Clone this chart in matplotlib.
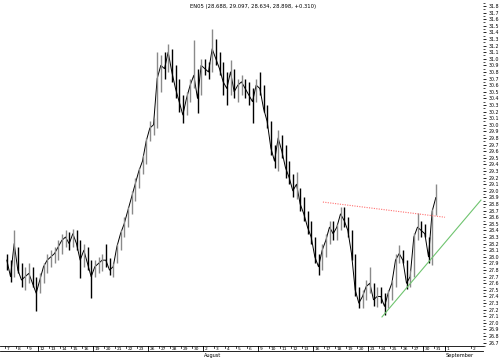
import numpy as np
import matplotlib
matplotlib.use("Agg")
import matplotlib.pyplot as plt
from matplotlib.ticker import MultipleLocator, FormatStrFormatter

# -----------------------------
# Chart data
# -----------------------------
title = "EN05 (28.688, 29.097, 28.634, 28.898, +0.310)"

day_labels = ["7", "8", "9", "12", "13", "14", "15", "16", "19", "20", "21", "22", "23",
              "26", "27", "28", "29", "30",
              "2", "3", "4", "5", "6", "9", "10", "11", "12", "13", "16", "17", "18", "19", "20",
              "23", "24", "25", "26", "27", "30", "31",
              "1", "2"]
month_labels = {"August": 18, "September": 40}

# three bars per trading day, last day has one bar
bar_high = [28.05, 27.95, 28.40, 28.15, 27.90, 27.85, 27.90, 27.85, 27.70,
            27.75, 27.90, 28.05, 28.10, 28.15, 28.25, 28.35, 28.40, 28.38,
            28.42, 28.40, 28.25, 28.20, 28.15, 27.95, 27.95, 28.00, 28.05,
            28.20, 27.98, 27.90, 28.20, 28.40, 28.60, 28.75, 29.00, 29.20,
            29.35, 29.55, 29.80, 30.05, 30.10, 31.10, 31.05, 31.10, 31.22,
            31.15, 30.90, 30.70, 30.45, 30.50, 30.70, 31.28, 30.85, 31.00,
            31.00, 30.95, 31.45, 31.30, 31.10, 30.95, 30.80, 30.98, 30.85,
            30.70, 30.75, 30.70, 30.65, 30.55, 30.70, 30.80, 30.60, 30.30,
            30.05, 29.70, 29.92, 29.85, 29.70, 29.45, 29.25, 29.28, 29.05,
            28.90, 28.70, 28.55, 28.30, 28.05, 28.20, 28.35, 28.55, 28.55,
            28.50, 28.76, 28.75, 28.60, 28.40, 28.05, 27.55, 27.50, 27.65,
            27.85, 27.60, 27.55, 27.55, 27.45, 27.50, 27.65, 28.05, 28.18,
            28.10, 27.95, 27.80, 28.36, 28.66, 28.55, 28.50, 28.30, 28.72,
            29.097]
bar_low = [27.80, 27.62, 27.70, 27.75, 27.55, 27.50, 27.60, 27.55, 27.18,
           27.45, 27.60, 27.75, 27.85, 27.90, 27.95, 28.05, 28.15, 28.10,
           28.15, 28.10, 27.68, 27.85, 27.80, 27.38, 27.70, 27.75, 27.78,
           27.85, 27.72, 27.70, 27.90, 28.10, 28.30, 28.45, 28.65, 28.85,
           29.05, 29.25, 29.40, 29.75, 29.85, 29.95, 30.50, 30.70, 30.80,
           30.65, 30.40, 30.20, 30.02, 30.15, 30.35, 30.55, 30.18, 30.45,
           30.75, 30.70, 30.80, 30.90, 30.75, 30.45, 30.30, 30.45, 30.40,
           30.35, 30.45, 30.40, 30.30, 30.02, 30.35, 30.45, 30.20, 29.95,
           29.55, 29.35, 29.30, 29.50, 29.20, 29.10, 28.90, 28.88, 28.70,
           28.55, 28.35, 28.20, 27.90, 27.72, 27.80, 28.00, 28.20, 28.25,
           28.25, 28.40, 28.45, 28.30, 27.95, 27.40, 27.22, 27.22, 27.35,
           27.45, 27.25, 27.24, 27.30, 27.12, 27.22, 27.35, 27.55, 27.90,
           27.90, 27.52, 27.55, 27.70, 28.25, 28.30, 28.30, 27.90, 27.88,
           28.634]
bar_close = [27.95, 27.70, 28.20, 27.80, 27.65, 27.70, 27.75, 27.60, 27.45,
             27.65, 27.85, 27.95, 28.00, 28.05, 28.15, 28.25, 28.30, 28.20,
             28.35, 28.20, 27.95, 28.10, 27.90, 27.70, 27.85, 27.90, 27.95,
             27.95, 27.80, 27.85, 28.15, 28.35, 28.50, 28.70, 28.90, 29.10,
             29.30, 29.45, 29.75, 29.95, 30.00, 30.70, 30.90, 30.85, 31.10,
             30.80, 30.55, 30.35, 30.15, 30.40, 30.60, 30.75, 30.40, 30.90,
             30.85, 30.80, 31.15, 31.00, 30.85, 30.65, 30.55, 30.80, 30.50,
             30.60, 30.65, 30.55, 30.45, 30.35, 30.60, 30.55, 30.25, 30.05,
             29.65, 29.45, 29.80, 29.60, 29.35, 29.20, 29.00, 29.10, 28.80,
             28.65, 28.45, 28.30, 28.00, 27.85, 28.10, 28.25, 28.45, 28.35,
             28.45, 28.65, 28.55, 28.40, 28.05, 27.50, 27.30, 27.40, 27.55,
             27.60, 27.35, 27.40, 27.40, 27.25, 27.45, 27.60, 27.95, 28.05,
             27.95, 27.60, 27.70, 28.30, 28.45, 28.40, 28.35, 28.00, 28.69,
             28.898]

# trend lines: (day, price) end points
red_line = ([28.9, 40.0], [28.83, 28.60])
green_line = ([34.27, 43.27], [27.09, 28.86])

# -----------------------------
# Plot
# -----------------------------
fig = plt.figure(figsize=(5, 3.58), dpi=100)
ax = fig.add_axes([0.0, 1 - 346 / 358, 483 / 500, 346 / 358])

n = len(bar_high)
pos = np.array([i // 3 + (i % 3 + 0.5) / 3 for i in range(n)])
opens = np.r_[bar_close[0], bar_close[:-1]]
colors = ["#8a8a8a" if c > o else "black" for c, o in zip(bar_close, opens)]

# join consecutive bars so the trace reads continuous
ax.plot(pos, bar_close, color="black", lw=0.7, zorder=2)
ax.vlines(pos, bar_low, bar_high, colors=colors, lw=1.0, zorder=3)

ax.plot(*red_line, color="#ff7070", lw=0.8, ls=(0, (1, 1.2)), zorder=4)
ax.plot(*green_line, color="#6fc46f", lw=0.8, zorder=4, clip_on=False)

ax.set_xlim(-5 / 11, 478 / 11)
ax.set_ylim(26.65, 31.89)

# right price axis
ax.yaxis.tick_right()
ax.yaxis.set_major_locator(MultipleLocator(0.1))
ax.yaxis.set_minor_locator(MultipleLocator(0.05))
ax.yaxis.set_major_formatter(FormatStrFormatter("%.1f"))
ax.tick_params(axis="y", which="major", length=2.5, width=0.6, labelsize=3.4, pad=1.5)
ax.tick_params(axis="y", which="minor", length=1.2, width=0.5)
for s in ["top", "left", "right"]:
    ax.spines[s].set_visible(False)
ax.spines["bottom"].set_linewidth(0.6)

# date strip under the plot
tick_pos = list(range(len(day_labels) - 1)) + [42.4]
ax.set_xticks([])
xt = ax.get_xaxis_transform()
strip_h = 5 / 346
for p, lab in zip(tick_pos, day_labels):
    ax.plot([p, p], [0, -strip_h * 0.4], color="black", lw=0.5,
            transform=xt, clip_on=False)
    ax.text(p + 0.15, -strip_h * 0.5, lab, transform=xt,
            fontsize=3.2, ha="left", va="center")
week_idx = [3, 8, 13, 18, 23, 28, 33, 38, 40]
for p in week_idx:
    ax.plot([p, p], [0, -strip_h], color="black", lw=0.6,
            transform=xt, clip_on=False)
ax.plot([-0.5, 478 / 11], [-strip_h, -strip_h], color="black", lw=0.6,
        transform=xt, clip_on=False)
for name, p in month_labels.items():
    ax.text(p + 0.1, -strip_h * 1.9, name, transform=xt,
            fontsize=3.6, ha="left", va="center")

ax.text(0.524, 0.981, title, transform=ax.transAxes, fontsize=3.8,
        ha="center", va="center")

plt.savefig("out.png", dpi=100)
plt.close()
